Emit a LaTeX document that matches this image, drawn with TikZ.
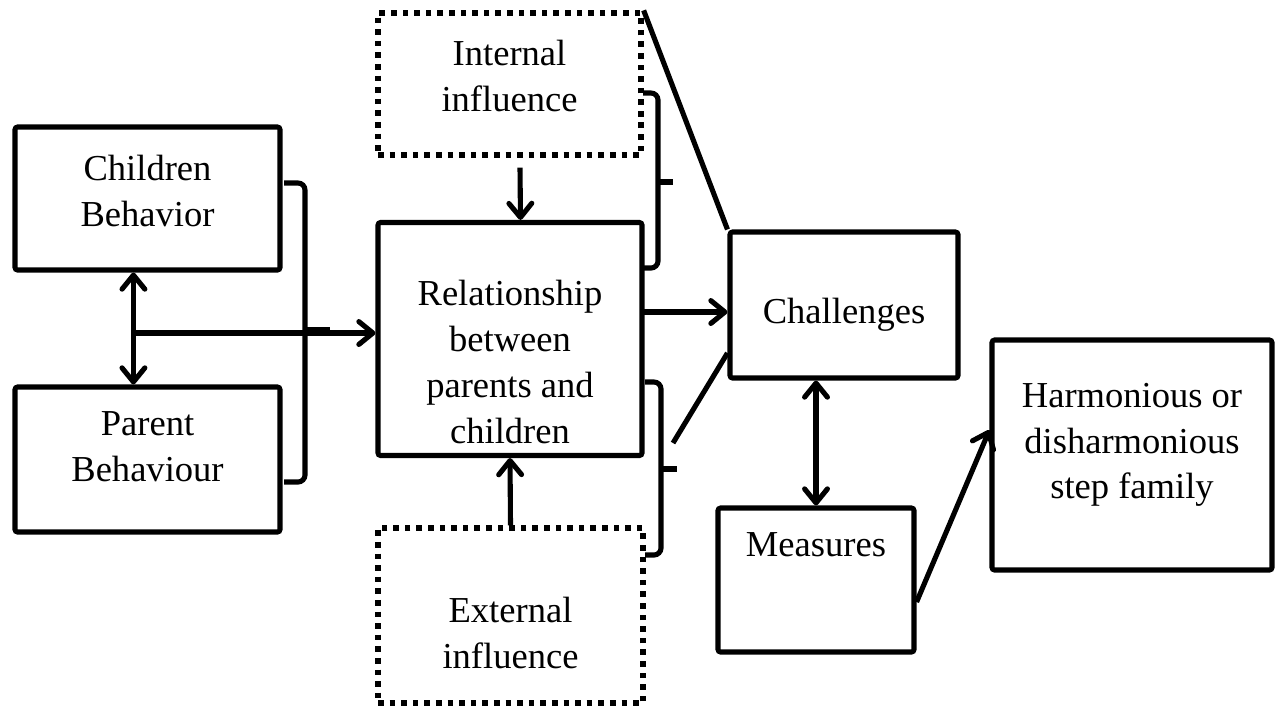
\documentclass[tikz,border=0pt]{standalone}
\usepackage{fontspec}
\setmainfont{Liberation Serif}
\usetikzlibrary{arrows.meta}
\begin{document}
\begin{tikzpicture}[x=0.02cm,y=-0.02cm,line width=2.9pt,
  box/.style={draw, rectangle, rounded corners=1.5pt, inner sep=0pt},
  dotbox/.style={draw, rectangle, line width=3pt, dash pattern=on 3.2pt off 3.4pt, inner sep=0pt},
  wh/.style 2 args={minimum width=#1*0.02cm, minimum height=#2*0.02cm},
  txt/.style={align=center, inner sep=0pt, font=\fontsize{20.8pt}{26pt}\selectfont},
  arrowtip/.style={-{Straight Barb[length=8pt,width=13pt,round]}},
  dblarrow/.style={{Straight Barb[length=8pt,width=13pt,round]}-{Straight Barb[length=8pt,width=13pt,round]}},
  brk/.style={rounded corners=4pt},
]
\useasboundingbox (0,0) rectangle (1280,708);

% boxes
\node[box, wh={265}{143}] (cb) at (147.5,198.5) {};
\node[txt] (cbt) at (147.5,191) {Children\\Behavior};
\node[box, wh={265}{145}] (pb) at (147.5,459.5) {};
\node[txt] (pbt) at (147.5,447) {Parent\\Behaviour};
\node[dotbox, wh={263}{142}] (ib) at (509.5,84) {};
\node[txt] (ibt) at (509.5,76) {Internal\\influence};
\node[box, wh={264}{233}] (rel) at (510,339) {};
\node[txt] (relt) at (510,362) {Relationship\\between\\parents and\\children};
\node[dotbox, wh={265}{175}] (eb) at (510.5,615.5) {};
\node[txt] (ebt) at (510.5,633) {External\\influence};
\node[box, wh={228}{146}] (ch) at (844,305) {};
\node[txt] (cht) at (844,315) {Challenges};
\node[box, wh={196}{144}] (me) at (816,580) {};
\node[txt] (met) at (816,545) {Measures};
\node[box, wh={280}{230}] (hd) at (1132,455) {};
\node[txt] (hdt) at (1132,445) {Harmonious or\\disharmonious\\step family};

% left part
\draw[dblarrow] ([xshift=2.42cm]cb.south west) -- ([xshift=2.42cm]pb.north west);
\coordinate (j) at (136,333);
\draw[arrowtip] (j) -- (j -| rel.west);
\draw[brk] (284,183) -- (305,183) -- (305,482) -- (284,482);
\draw (305,330) -- (330,330);

% influences
\draw[arrowtip] ([xshift=0.21cm,yshift=-0.2cm]ib.south) -- ([xshift=0.21cm]rel.north);
\draw[arrowtip] (eb.north) -- (rel.south);

% relationship to challenges
\coordinate (rc) at (643,312);
\draw[arrowtip] (rc) -- (rc -| ch.west);
\draw[brk] (643,93) -- (658,93) -- (658,268) -- (643,268);
\draw (658,182) -- (673,182);
\draw (ib.north east) -- (ch.north west);
\draw[brk] (645,382) -- (661,382) -- (661,555) -- (645,555);
\draw (661,469) -- (677,469);
\coordinate (l2) at (673,443);
\draw (l2) -- (ch.west |- 0,353);

% challenges, measures, outcome
\draw[dblarrow] (me.north |- ch.south) -- (me.north);
\draw[arrowtip] (me.east |- 0,602) -- (hd.west |- 0,430);
\end{tikzpicture}
\end{document}
